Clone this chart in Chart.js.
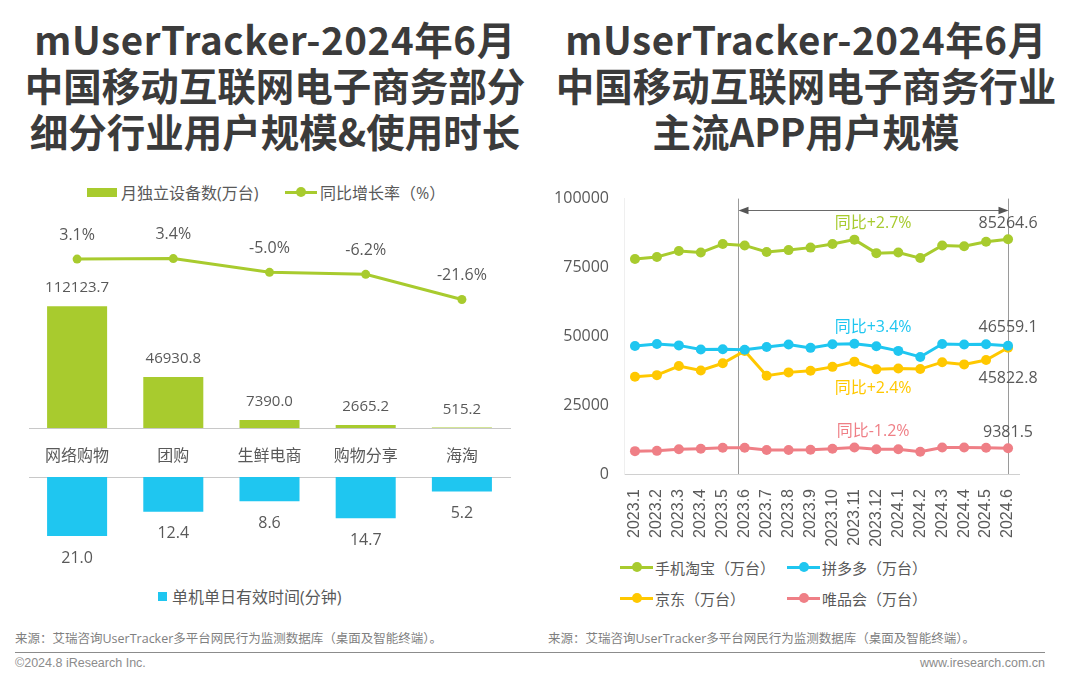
<!DOCTYPE html>
<html><head><meta charset="utf-8">
<script src="https://cdn.jsdelivr.net/npm/chart.js@4.4.1/dist/chart.umd.min.js"></script>
<style>
html,body{margin:0;padding:0;}
body{width:1080px;height:679px;background:#fff;position:relative;overflow:hidden;font-family:"Open Sans","Noto Sans CJK SC",sans-serif;color:#595959;}
.title{position:absolute;top:15px;width:600px;text-align:center;font-family:"Noto Sans CJK SC",sans-serif;font-weight:700;font-size:38.5px;line-height:46px;color:#3b3b3b;white-space:nowrap;}
.title .l1{letter-spacing:0.6px;}
.cv{position:absolute;}
.lg{position:absolute;display:flex;align-items:center;white-space:nowrap;color:#595959;}
.mk{display:inline-block;position:relative;}
.mk.line::after{content:'';position:absolute;left:50%;top:50%;width:10px;height:10px;margin:-5px 0 0 -5px;border-radius:50%;background:inherit;}
.src{position:absolute;top:628px;font-size:12.5px;color:#7f7f7f;white-space:nowrap;}
.rule{position:absolute;left:15px;width:1030px;top:652px;height:1px;background:#8c8c8c;}
.foot{position:absolute;top:656px;font-family:"Liberation Sans",sans-serif;font-size:12.5px;color:#8c8c8c;}
</style></head>
<body>
<div class="title" style="left:-25px"><span class="l1">mUserTracker-2024年6月</span><br>中国移动互联网电子商务部分<br>细分行业用户规模&amp;使用时长</div>
<div class="title" style="left:506px"><span class="l1">mUserTracker-2024年6月</span><br>中国移动互联网电子商务行业<br>主流APP用户规模</div>

<div class="lg" style="left:87px;top:180px;height:24px;font-size:16px"><span class="mk" style="width:30px;height:9px;background:#a8cb2e;margin-right:4px"></span>月独立设备数(万台)</div>
<div class="lg" style="left:285px;top:180px;height:24px;font-size:16px"><span class="mk line" style="width:32px;height:3px;background:#a8cb2e;margin-right:3px"></span>同比增长率（%）</div>
<div class="lg" style="left:158px;top:584px;height:24px;font-size:16px"><span class="mk" style="width:9px;height:9px;background:#1fc6f0;margin-right:5px"></span>单机单日有效时间(分钟)</div>

<div class="lg" style="left:620px;top:555px;height:24px;font-size:15px"><span class="mk line" style="width:33px;height:3px;background:#a8cb2e;margin-right:2px"></span>手机淘宝（万台）</div>
<div class="lg" style="left:787px;top:555px;height:24px;font-size:15px"><span class="mk line" style="width:33px;height:3px;background:#1fc6f0;margin-right:2px"></span>拼多多（万台）</div>
<div class="lg" style="left:620px;top:586px;height:24px;font-size:15px"><span class="mk line" style="width:33px;height:3px;background:#ffc800;margin-right:2px"></span>京东（万台）</div>
<div class="lg" style="left:787px;top:586px;height:24px;font-size:15px"><span class="mk line" style="width:33px;height:3px;background:#ef7f86;margin-right:2px"></span>唯品会（万台）</div>

<canvas id="c1" class="cv" width="530" height="300" style="left:0;top:175px"></canvas>
<canvas id="c2" class="cv" width="530" height="130" style="left:0;top:470px"></canvas>
<canvas id="c3" class="cv" width="540" height="386" style="left:540px;top:174px"></canvas>

<div class="src" style="left:15px">来源：艾瑞咨询UserTracker多平台网民行为监测数据库（桌面及智能终端）。</div>
<div class="src" style="left:548px">来源：艾瑞咨询UserTracker多平台网民行为监测数据库（桌面及智能终端）。</div>
<div class="rule"></div>
<div class="foot" style="left:15px">©2024.8 iResearch Inc.</div>
<div class="foot" style="right:35px">www.iresearch.com.cn</div>

<script>
// ---------- DATA ----------
const segCategories = ['网络购物', '团购', '生鲜电商', '购物分享', '海淘'];
const segDevices = [112123.7, 46930.8, 7390.0, 2665.2, 515.2];
const segGrowth = [3.1, 3.4, -5.0, -6.2, -21.6];
const segMinutes = [21.0, 12.4, 8.6, 14.7, 5.2];

const months = ['2023.1','2023.2','2023.3','2023.4','2023.5','2023.6','2023.7','2023.8','2023.9',
  '2023.10','2023.11','2023.12','2024.1','2024.2','2024.3','2024.4','2024.5','2024.6'];
const taobao = [78100, 78800, 81000, 80400, 83500, 83000, 80600, 81300, 82200, 83500, 85100, 80200, 80400, 78400, 83000, 82700, 84300, 85264.6];
const pinduoduo = [46500, 47200, 46700, 45200, 45300, 45100, 46100, 47000, 45800, 47100, 47300, 46400, 44700, 42500, 47200, 47000, 47100, 46559.1];
const jingdong = [35300, 35900, 39200, 37600, 40200, 44700, 35700, 36900, 37500, 38900, 40800, 38000, 38300, 38100, 40600, 39800, 41400, 45822.8];
const vipshop = [8300, 8400, 9000, 9200, 9500, 9500, 8700, 8700, 8800, 9200, 9600, 9000, 9000, 8100, 9600, 9600, 9500, 9381.5];
const seriesNames = ['手机淘宝（万台）', '拼多多（万台）', '京东（万台）', '唯品会（万台）'];
const yoyLabels = ['同比+2.7%', '同比+3.4%', '同比+2.4%', '同比-1.2%'];
const yTicks = [0, 25000, 50000, 75000, 100000];
const markStart = '2023.6';
const markEnd = '2024.6';

// ---------- STYLE ----------
const FONT = '"Open Sans", "Noto Sans CJK SC", sans-serif';
const GREEN = '#a8cb2e', BLUE = '#1fc6f0', YELLOW = '#ffc800', PINK = '#ef7f86';
const TXT = '#595959';
Chart.defaults.font.family = FONT;
Chart.defaults.color = TXT;
Chart.defaults.animation = false;
Chart.defaults.plugins.legend.display = false;
Chart.defaults.plugins.tooltip.enabled = false;

// ---------- LEFT TOP: devices + growth ----------
const topLabels = {
  id: 'topLabels',
  afterDatasetsDraw(chart) {
    const ctx = chart.ctx;
    ctx.save();
    ctx.fillStyle = TXT;
    ctx.font = '15px ' + FONT;
    ctx.textAlign = 'center';
    ctx.textBaseline = 'middle';
    chart.getDatasetMeta(1).data.forEach((el, i) => {
      ctx.fillText(segDevices[i].toFixed(1), el.x, el.y - 18);
    });
    ctx.font = '16px ' + FONT;
    chart.getDatasetMeta(0).data.forEach((el, i) => {
      ctx.fillText(segGrowth[i].toFixed(1) + '%', el.x, el.y - 24);
    });
    ctx.restore();
  }
};
new Chart(document.getElementById('c1'), {
  type: 'bar',
  data: {
    labels: segCategories,
    datasets: [
      { type: 'line', data: segGrowth, yAxisID: 'y1', borderColor: GREEN, backgroundColor: GREEN,
        borderWidth: 3, pointRadius: 4.5, pointBorderWidth: 0, pointBackgroundColor: GREEN, tension: 0 },
      { type: 'bar', data: segDevices, yAxisID: 'y', backgroundColor: GREEN,
        categoryPercentage: 1, barPercentage: 0.624 }
    ]
  },
  options: {
    responsive: false,
    layout: { padding: { left: 29, right: 20, top: 40, bottom: 0 } },
    scales: {
      x: { grid: { display: false, drawTicks: false }, border: { display: true, color: '#c8c8c8', width: 1 },
           ticks: { font: { size: 16, family: FONT }, color: TXT, padding: 19 },
           afterFit: s => { s.height = 47; } },
      y: { display: false, min: 0, max: 196000 },
      y1: { display: false, min: -100, max: 30 }
    }
  },
  plugins: [topLabels]
});

// ---------- LEFT BOTTOM: minutes ----------
const botLabels = {
  id: 'botLabels',
  afterDatasetsDraw(chart) {
    const ctx = chart.ctx;
    ctx.save();
    ctx.fillStyle = TXT;
    ctx.font = '16px ' + FONT;
    ctx.textAlign = 'center';
    ctx.textBaseline = 'middle';
    chart.getDatasetMeta(0).data.forEach((el, i) => {
      ctx.fillText(segMinutes[i].toFixed(1), el.x, el.y + 22);
    });
    ctx.restore();
  }
};
new Chart(document.getElementById('c2'), {
  type: 'bar',
  data: { labels: segCategories,
    datasets: [{ data: segMinutes, backgroundColor: BLUE, categoryPercentage: 1, barPercentage: 0.624 }] },
  options: {
    responsive: false,
    layout: { padding: { left: 29, right: 20, top: 7, bottom: 23 } },
    scales: {
      x: { position: 'top', grid: { display: false, drawTicks: false }, border: { display: true, color: '#c8c8c8', width: 1 },
           ticks: { display: false }, afterFit: s => { s.height = 0; } },
      y: { display: false, reverse: true, min: 0, max: 35.6 }
    }
  },
  plugins: [botLabels]
});

// ---------- RIGHT: APP users ----------
const labelStyle = [
  { dy: -16, yoyDy: -16 },
  { dy: -18.5, yoyDy: -18.5 },
  { dy: 30.5, yoyDy: 40.5 },
  { dy: -15.5, yoyDy: -16.5 }
];
const markStartShift = -0.3; // bracket line sits just left of the 2023.6 point
const marks = {
  id: 'marks',
  beforeDatasetsDraw(chart) {
    const { ctx, chartArea, scales: { x } } = chart;
    const xs = Math.round(x.getPixelForValue(months.indexOf(markStart) + markStartShift)) + 0.5;
    const xe = Math.round(x.getPixelForValue(months.indexOf(markEnd))) + 0.5;
    ctx.save();
    ctx.strokeStyle = '#9a9a9a';
    ctx.lineWidth = 1;
    [xs, xe].forEach(px => {
      ctx.beginPath(); ctx.moveTo(px, chartArea.top); ctx.lineTo(px, chartArea.bottom); ctx.stroke();
    });
    const ay = Math.round(chartArea.top + 11) + 0.5;
    ctx.strokeStyle = '#6a6a6a';
    ctx.fillStyle = '#555';
    ctx.beginPath(); ctx.moveTo(xs + 6, ay); ctx.lineTo(xe - 6, ay); ctx.stroke();
    ctx.beginPath(); ctx.moveTo(xs, ay); ctx.lineTo(xs + 10, ay - 3.8); ctx.lineTo(xs + 10, ay + 3.8); ctx.closePath(); ctx.fill();
    ctx.beginPath(); ctx.moveTo(xe, ay); ctx.lineTo(xe - 10, ay - 3.8); ctx.lineTo(xe - 10, ay + 3.8); ctx.closePath(); ctx.fill();
    ctx.restore();
  },
  afterDatasetsDraw(chart) {
    const { ctx, scales: { x } } = chart;
    const xs = x.getPixelForValue(months.indexOf(markStart) + markStartShift);
    const xe = x.getPixelForValue(months.indexOf(markEnd));
    ctx.save();
    ctx.font = '16px ' + FONT;
    ctx.textAlign = 'center';
    ctx.textBaseline = 'middle';
    chart.data.datasets.forEach((ds, i) => {
      const meta = chart.getDatasetMeta(i);
      const last = meta.data[meta.data.length - 1];
      const v = ds.data[ds.data.length - 1];
      ctx.fillStyle = TXT;
      ctx.fillText(v.toFixed(1), last.x, last.y + labelStyle[i].dy);
      ctx.fillStyle = ds.borderColor;
      ctx.fillText(yoyLabels[i], (xs + xe) / 2, last.y + labelStyle[i].yoyDy);
    });
    ctx.restore();
  }
};
function lineDs(label, data, color) {
  return { label, data, borderColor: color, backgroundColor: color, borderWidth: 3,
    pointRadius: 5, pointBorderWidth: 0, pointBackgroundColor: color, tension: 0 };
}
new Chart(document.getElementById('c3'), {
  type: 'line',
  data: {
    labels: months,
    datasets: [
      lineDs(seriesNames[0], taobao, GREEN),
      lineDs(seriesNames[1], pinduoduo, BLUE),
      lineDs(seriesNames[2], jingdong, YELLOW),
      lineDs(seriesNames[3], vipshop, PINK)
    ]
  },
  options: {
    responsive: false,
    layout: { padding: { left: 0, right: 61, top: 18, bottom: 0 } },
    scales: {
      x: { offset: true, grid: { display: false, drawTicks: false }, border: { display: true, color: '#d0d0d0', width: 1 },
           ticks: { autoSkip: false, minRotation: 90, maxRotation: 90, padding: 15,
                    font: { size: 16, family: '"Liberation Sans", sans-serif' }, color: TXT },
           afterFit: s => { s.height = 86; } },
      y: { min: 0, max: 100000, grid: { display: false, drawTicks: false }, border: { display: true, color: '#efefef', width: 1 },
           afterBuildTicks: s => { s.ticks = yTicks.map(v => ({ value: v })); },
           ticks: { padding: 15, font: { size: 16, family: FONT }, color: TXT, callback: v => String(v) },
           afterFit: s => { s.width = 84; } }
    }
  },
  plugins: [marks]
});
</script>
</body></html>
